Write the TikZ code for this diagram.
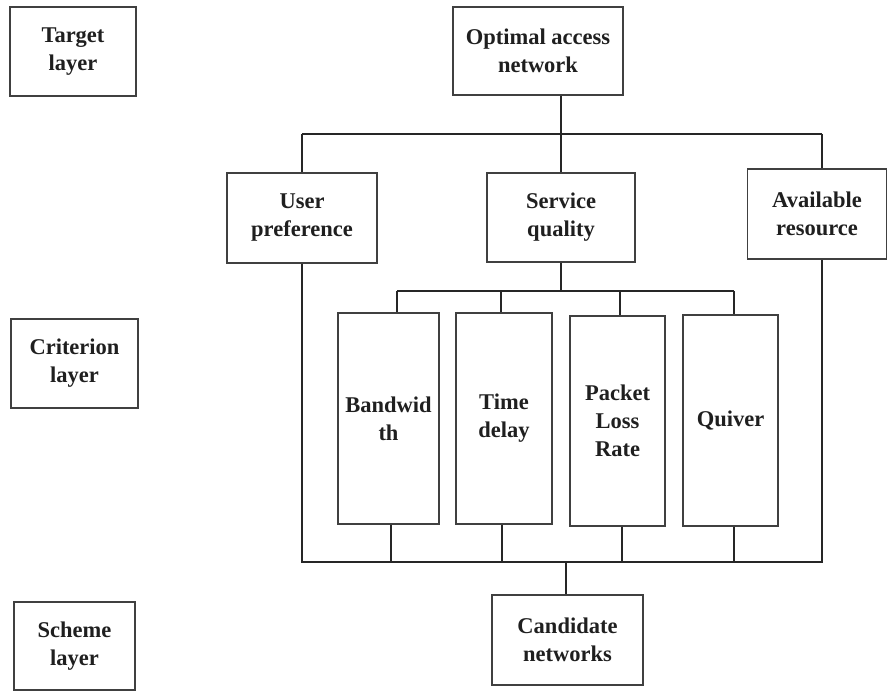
\documentclass[tikz,border=0pt]{standalone}
\usepackage{fontspec}
\setmainfont{Liberation Serif}
\begin{document}
\begin{tikzpicture}[x=1pt,y=-1pt,
  box/.style={draw=black!75,line width=1.1pt,rectangle,inner sep=0pt,align=center,
    font=\fontsize{22.5}{28}\selectfont\bfseries,text=black!88},
  wire/.style={draw=black!85,line width=1.4pt}]
\useasboundingbox (0,0) rectangle (888,692);
% layer boxes
\node[box,minimum width=126pt,minimum height=89pt] (tl) at (73,51.5) {Target\\layer};
\node[box,minimum width=127pt,minimum height=89pt] (cl) at (74.5,363.5) {Criterion\\layer};
\node[box,minimum width=121pt,minimum height=88pt] (sl) at (74.5,646) {Scheme\\layer};
% main boxes
\node[box,minimum width=170pt,minimum height=88pt] (opt) at (538,51) {Optimal access\\network};
\node[box,minimum width=150pt,minimum height=90pt] (up) at (302,218) {User\\preference};
\node[box,minimum width=148pt,minimum height=89pt] (sq) at (561,217.5) {Service\\quality};
\node[box,minimum width=139pt,minimum height=90pt] (ar) at (817,214) {Available\\resource};
\node[box,minimum width=101pt,minimum height=211pt] (bw) at (388.5,418.5) {Bandwid\\th};
\node[box,minimum width=96pt,minimum height=211pt] (td) at (504,418.5) {Time\\delay};
\node[box,minimum width=95pt,minimum height=210pt] (pl) at (617.5,421) {Packet\\Loss\\Rate};
\node[box,minimum width=95pt,minimum height=211pt] (qv) at (730.5,420.5) {Quiver};
\node[box,minimum width=151pt,minimum height=90pt] (cn) at (567.5,640) {Candidate\\networks};
% bus coordinates
\coordinate (t0) at (561,134);
\coordinate (tl1) at (302,134);
\coordinate (tr1) at (822,134);
\coordinate (m0) at (561,291);
\coordinate (m1) at (397,291);
\coordinate (m2) at (501,291);
\coordinate (m3) at (620,291);
\coordinate (m4) at (734,291);
\coordinate (bl) at (302,562);
\coordinate (br) at (822,562);
\coordinate (b1) at (391,562);
\coordinate (b2) at (502,562);
\coordinate (b3) at (622,562);
\coordinate (b4) at (734,562);
\coordinate (b0) at (566,562);
% top bus
\draw[wire] (opt.south -| t0) -- (t0);
\draw[wire] (tl1) -- (tr1);
\draw[wire] (tl1) -- (up.north -| tl1);
\draw[wire] (t0) -- (sq.north);
\draw[wire] (tr1) -- (ar.north -| tr1);
% middle bus
\draw[wire] (sq.south) -- (m0);
\draw[wire] (m1) -- (m4);
\draw[wire] (m1) -- (bw.north -| m1);
\draw[wire] (m2) -- (td.north -| m2);
\draw[wire] (m3) -- (pl.north -| m3);
\draw[wire] (m4) -- (qv.north -| m4);
% bottom bus
\draw[wire] (up.south -| bl) -- (bl) -- (br) -- (ar.south -| br);
\draw[wire] (bw.south -| b1) -- (b1);
\draw[wire] (td.south -| b2) -- (b2);
\draw[wire] (pl.south -| b3) -- (b3);
\draw[wire] (qv.south -| b4) -- (b4);
\draw[wire] (b0) -- (cn.north -| b0);
\end{tikzpicture}
\end{document}
